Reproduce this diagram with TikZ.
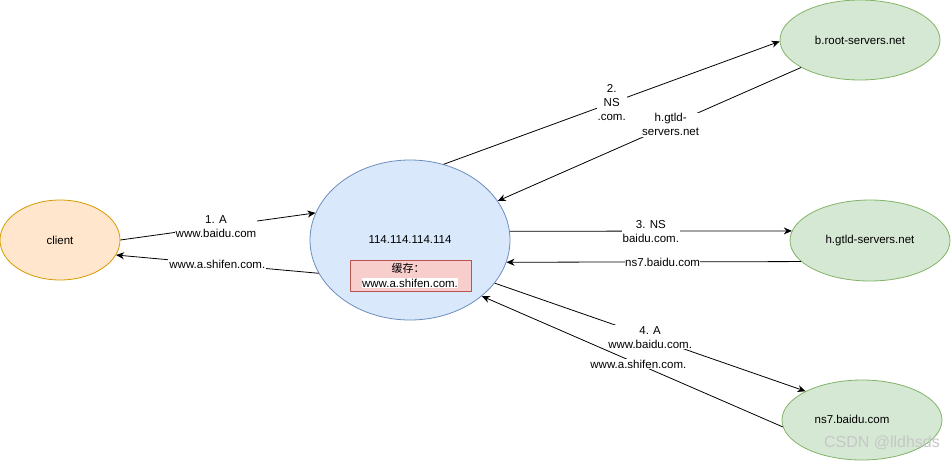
\documentclass[tikz,border=0pt]{standalone}
\usepackage{fontspec}
\setmainfont{Liberation Sans}
\newfontfamily\cjk{Noto Sans CJK SC}
\usetikzlibrary{shapes.geometric,arrows.meta}
\definecolor{orfill}{HTML}{FFE6CC}
\definecolor{ordraw}{HTML}{D79B00}
\definecolor{blfill}{HTML}{DAE8FC}
\definecolor{bldraw}{HTML}{6C8EBF}
\definecolor{grfill}{HTML}{D5E8D4}
\definecolor{grdraw}{HTML}{82B366}
\definecolor{rdfill}{HTML}{F8CECC}
\definecolor{rddraw}{HTML}{B85450}
\begin{document}
\begin{tikzpicture}[x=1pt,y=-1pt,
  every node/.style={font=\fontsize{11.5}{14}\selectfont},
  ell/.style={ellipse, draw, line width=0.8pt, inner sep=0pt},
  conn/.style={draw=black, line width=0.8pt, -{Stealth[length=8pt,width=7pt,inset=2.5pt]}},
  lbl/.style={fill=white, inner sep=1pt, align=center}]
\useasboundingbox (0,0) rectangle (951,461);
% nodes
\node[ell, fill=orfill, draw=ordraw, minimum width=120pt, minimum height=80pt] (client) at (60,240) {client};
\node[ell, fill=blfill, draw=bldraw, minimum width=200pt, minimum height=160pt] (main) at (410,240) {};
\node (ip) at (410,240) {114.114.114.114};
\node[draw=rddraw, fill=rdfill, line width=0.8pt, minimum width=121pt, minimum height=31pt, inner sep=0pt] (cache) at (410.5,275.5) {};
\node[inner sep=0pt] (cachet) at (408,268) {\cjk\fontsize{11}{13}\selectfont 缓存：};
\node[fill=white, inner sep=0.5pt] (cachev) at (410,283) {www.a.shifen.com.};
\node[ell, fill=grfill, draw=grdraw, minimum width=160pt, minimum height=80pt] (root) at (860,40) {b.root-servers.net};
\node[ell, fill=grfill, draw=grdraw, minimum width=160pt, minimum height=81pt] (gtld) at (870,240.5) {h.gtld-servers.net};
\node[ell, fill=grfill, draw=grdraw, minimum width=160pt, minimum height=80pt] (ns7) at (862,420) {};
\node (ns7t) at (852,419) {ns7.baidu.com};
% connectors
\draw[conn] (client.0) -- node[lbl, pos=0.49] {1. A\\www.baidu.com} (main.164);
\draw[conn] (main.200) -- node[lbl, pos=0.5] {www.a.shifen.com.} (client.-15);
\draw[conn] (main.66) -- node[lbl, pos=0.5] {2.\\NS\\.com.} (root.181);
\draw[conn] (root.205) -- node[lbl, pos=0.43] {h.gtld-\\servers.net} (main.24);
\draw[conn] (main.5.2) -- node[lbl, pos=0.5] {3. NS\\baidu.com.} (gtld.173.4);
\draw[conn] (gtld.197) -- node[lbl, pos=0.47, inner sep=0pt] {ns7.baidu.com} (main.-13.5);
\draw[conn] (main.-27.6) -- node[lbl, pos=0.5] {4. A\\www.baidu.com.} (ns7.153.4);
\draw[conn] (ns7.185.4) -- node[lbl, pos=0.48] {www.a.shifen.com.} (main.-38.4);
% watermark
\node[text=black!22, font=\fontsize{16}{18}\selectfont] (wm) at (882,443) {CSDN @lldhsds};
\end{tikzpicture}
\end{document}
